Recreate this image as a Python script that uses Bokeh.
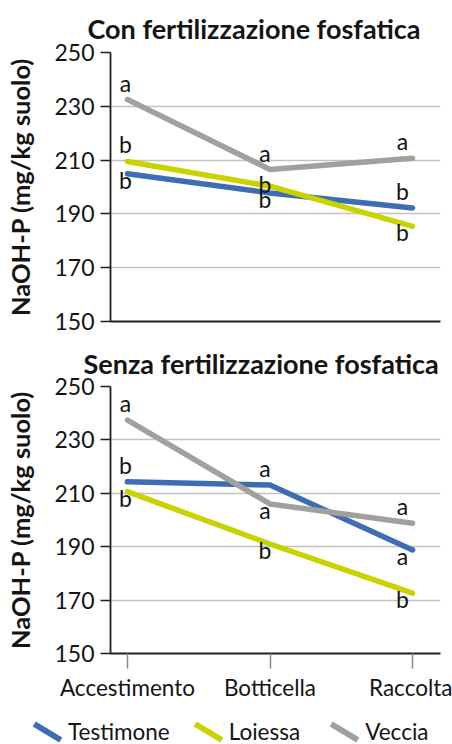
from bokeh.plotting import figure
from bokeh.layouts import column
from bokeh.models import ColumnDataSource, FixedTicker, Div
from bokeh.embed import file_html
from bokeh.resources import INLINE
from bokeh.core.properties import value

# ---------------- data ----------------
stages = ["Accestimento", "Botticella", "Raccolta"]
series_names = ["Testimone", "Loiessa", "Veccia"]
series_colors = ["#3f6db3", "#c8d300", "#a0a09c"]
y_ticks = [150, 170, 190, 210, 230, 250]

con_title = "Con fertilizzazione fosfatica"
con_testimone = [204.9, 197.8, 192.2]
con_loiessa = [209.5, 200.3, 185.4]
con_veccia = [232.5, 206.5, 210.7]
con_letters_testimone = ["b", "b", "b"]
con_letters_loiessa = ["b", "b", "b"]
con_letters_veccia = ["a", "a", "a"]
con_side_testimone = ["below", "below", "above"]
con_side_loiessa = ["above", "on", "below"]
con_side_veccia = ["above", "above", "above"]

senza_title = "Senza fertilizzazione fosfatica"
senza_testimone = [214.3, 213.1, 188.8]
senza_loiessa = [210.6, 191.0, 172.6]
senza_veccia = [237.4, 206.0, 198.8]
senza_letters_testimone = ["b", "a", "a"]
senza_letters_loiessa = ["b", "b", "b"]
senza_letters_veccia = ["a", "a", "a"]
senza_side_testimone = ["above", "above", "below"]
senza_side_loiessa = ["below", "below", "below"]
senza_side_veccia = ["above", "below", "above"]

y_label = "NaOH-P (mg/kg suolo)"

FONT = "Lato"
TXT = "#141414"
AXIS = "#1e1e1e"
stage_dx = [-2, -5, -10]
side_dy = {"above": -17, "below": 6, "on": -2}


def make_panel(title, values, letters, sides, frame_h, top_border, bottom_border,
               title_offset, title_standoff, show_x):
    p = figure(frame_width=330, frame_height=frame_h,
               x_range=(-0.119, 2.196), y_range=(150, 250),
               output_backend="svg", toolbar_location=None,
               min_border_left=110, min_border_right=12,
               min_border_top=top_border, min_border_bottom=bottom_border)
    p.outline_line_color = None
    p.background_fill_color = "white"
    p.border_fill_color = "white"

    p.title.text = title
    p.title.text_font = FONT
    p.title.text_font_style = "bold"
    p.title.text_font_size = "27px"
    p.title.text_color = TXT
    p.title.align = "left"
    p.title.offset = title_offset
    p.title.standoff = title_standoff

    p.yaxis.ticker = FixedTicker(ticks=y_ticks)
    p.yaxis.axis_label = y_label
    p.yaxis.axis_label_text_font = FONT
    p.yaxis.axis_label_text_font_style = "bold"
    p.yaxis.axis_label_text_font_size = "25.5px"
    p.yaxis.axis_label_text_color = TXT
    p.yaxis.axis_label_standoff = 16
    p.yaxis.major_label_text_font = FONT
    p.yaxis.major_label_text_font_size = "23px"
    p.yaxis.major_label_text_color = TXT
    p.yaxis.major_tick_out = 10
    p.yaxis.major_tick_in = 0
    p.yaxis.minor_tick_line_color = None
    p.yaxis.major_tick_line_color = AXIS
    p.yaxis.major_tick_line_width = 1.5
    p.yaxis.major_label_standoff = 6
    p.yaxis.axis_line_color = AXIS
    p.yaxis.axis_line_width = 1.8

    p.ygrid.ticker = FixedTicker(ticks=y_ticks)
    p.ygrid.grid_line_color = "#c2c2c2"
    p.ygrid.grid_line_width = 1.4
    p.xgrid.grid_line_color = None

    p.xaxis.axis_line_color = AXIS
    p.xaxis.axis_line_width = 1.8
    p.xaxis.minor_tick_line_color = None
    if show_x:
        p.xaxis.ticker = FixedTicker(ticks=list(range(len(stages))))
        p.xaxis.major_label_overrides = {i: s for i, s in enumerate(stages)}
        p.xaxis.major_label_text_font = FONT
        p.xaxis.major_label_text_font_size = "22.5px"
        p.xaxis.major_label_text_color = TXT
        p.xaxis.major_tick_out = 15
        p.xaxis.major_tick_in = 0
        p.xaxis.major_tick_line_color = "#8a8a8a"
        p.xaxis.major_tick_line_width = 1.5
        p.xaxis.major_label_standoff = 5
    else:
        p.xaxis.ticker = FixedTicker(ticks=[])
        p.xaxis.major_label_text_font_size = "0px"
        p.xaxis.major_tick_out = 0
        p.xaxis.major_tick_in = 0

    xs = list(range(len(stages)))
    for vals, col in zip(values, series_colors):
        p.line(xs, vals, line_color=col, line_width=5.5,
               line_cap="round", line_join="round")

    tx, ty, tt, tdx, tdy = [], [], [], [], []
    for vals, lets, sds in zip(values, letters, sides):
        for i, (v, l, s) in enumerate(zip(vals, lets, sds)):
            tx.append(i)
            ty.append(v)
            tt.append(l)
            tdx.append(stage_dx[i])
            tdy.append(side_dy[s])
    src = ColumnDataSource(dict(x=tx, y=ty, text=tt, dx=tdx, dy=tdy))
    p.text(x="x", y="y", text="text", x_offset="dx", y_offset="dy", source=src,
           text_align="center", text_baseline="alphabetic",
           text_font=value(FONT), text_font_size="23px", text_color=TXT)
    return p


p1 = make_panel(con_title,
                [con_testimone, con_loiessa, con_veccia],
                [con_letters_testimone, con_letters_loiessa, con_letters_veccia],
                [con_side_testimone, con_side_loiessa, con_side_veccia],
                269, 52, 14, -23, 15, False)
p2 = make_panel(senza_title,
                [senza_testimone, senza_loiessa, senza_veccia],
                [senza_letters_testimone, senza_letters_loiessa, senza_letters_veccia],
                [senza_side_testimone, senza_side_loiessa, senza_side_veccia],
                267, 51, 50, -27, 14, True)

# legend strip (slanted swatches, as in the original)
item_gaps = [25, 31, 0]
items_html = ""
for name, col, gap in zip(series_names, series_colors, item_gaps):
    items_html += (
        f'<div style="display:flex;align-items:center;margin-right:{gap}px;">'
        f'<div style="position:relative;width:27px;height:18px;">'
        f'<div style="position:absolute;left:-2px;top:6px;width:31px;height:6px;'
        f'background:{col};transform:rotate(31deg);"></div></div>'
        f'<span style="margin-left:7px;font-family:{FONT};font-size:22.5px;'
        f'color:{TXT};line-height:24px;white-space:nowrap;">{name}</span></div>'
    )
legend_html = (
    '<div style="display:flex;align-items:center;box-sizing:border-box;'
    'height:41px;padding-top:16px;padding-left:34px;margin:0;">'
    + items_html + '</div>'
)
legend_div = Div(text=legend_html, width=452, height=41,
                 styles={"margin": "0", "padding": "0"})

layout = column(p1, p2, legend_div, spacing=0)
open("out.html", "w").write(file_html(layout, INLINE))
